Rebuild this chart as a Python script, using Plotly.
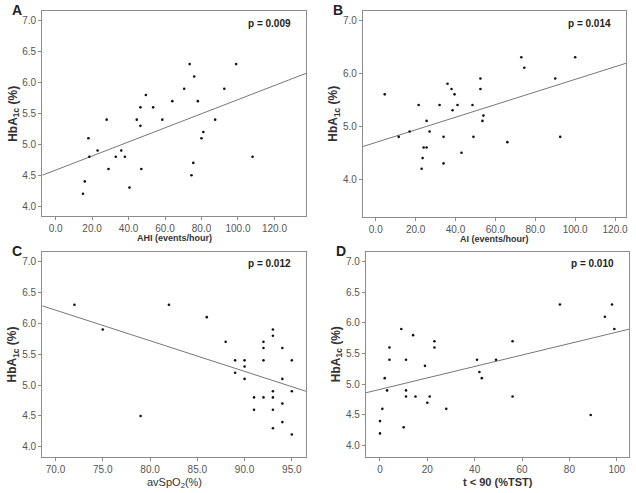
import numpy as np
import plotly.graph_objects as go

# ---------------- data ----------------
ahi = [15, 16, 18, 18.5, 23, 28, 29, 33, 36, 38, 40.5, 44.5, 46.5, 46.5, 47, 49.5, 53.5, 58.5,
       64, 70.5, 73.5, 76, 78, 75.5, 74.5, 80, 81, 87.5, 92.5, 99, 108]
hba_a = [4.2, 4.4, 5.1, 4.8, 4.9, 5.4, 4.6, 4.8, 4.9, 4.8, 4.3, 5.4, 5.6, 5.3, 4.6, 5.8, 5.6, 5.4,
         5.7, 5.9, 6.3, 6.1, 5.7, 4.7, 4.5, 5.1, 5.2, 5.4, 5.9, 6.3, 4.8]

ai = [4.5, 11.5, 17, 21.5, 25.5, 27, 24, 25.5, 23.5, 23, 32, 34, 34, 36, 38, 39.5, 38.5, 41, 43,
      48.5, 49, 52.5, 52.5, 54, 53.5, 66, 73, 74.5, 90, 92.5, 100]
hba_b = [5.6, 4.8, 4.9, 5.4, 5.1, 4.9, 4.6, 4.6, 4.4, 4.2, 5.4, 4.8, 4.3, 5.8, 5.7, 5.6, 5.3, 5.4, 4.5,
         5.4, 4.8, 5.9, 5.7, 5.2, 5.1, 4.7, 6.3, 6.1, 5.9, 4.8, 6.3]

avspo2 = [72, 75, 79, 82, 86, 88, 89, 89, 90, 90, 90, 91, 91, 92, 92, 92, 92, 93, 93, 93, 93, 93, 93,
          94, 94, 94, 94, 95, 95, 95]
hba_c = [6.3, 5.9, 4.5, 6.3, 6.1, 5.7, 5.4, 5.2, 5.4, 5.3, 5.1, 4.8, 4.6, 5.7, 5.6, 5.4, 4.8, 5.9, 5.8,
         4.9, 4.8, 4.6, 4.3, 5.6, 5.1, 4.7, 4.4, 5.4, 4.9, 4.2]

t90 = [0, 0, 1, 2, 3, 4, 4, 9, 10, 11, 11, 11, 14, 15, 19, 20, 21, 23, 23, 28, 41, 42, 43, 49, 56, 56,
       76, 89, 95, 98, 99]
hba_d = [4.2, 4.4, 4.6, 5.1, 4.9, 5.4, 5.6, 5.9, 4.3, 5.4, 4.9, 4.8, 5.8, 4.8, 5.3, 4.7, 4.8, 5.7, 5.6,
         4.6, 5.4, 5.2, 5.1, 5.4, 5.7, 4.8, 6.3, 4.5, 6.1, 6.3, 5.9]

panel_letters = ["A", "B", "C", "D"]
p_values = ["p = 0.009", "p = 0.014", "p = 0.012", "p = 0.010"]
x_titles = ["<b>AHI (events/hour)</b>", "<b>AI (events/hour)</b>", "avSpO<sub>2</sub>(%)",
            "<b>t &lt; 90 (%TST)</b>"]
y_title = "<b>HbA<sub>1c</sub> (%)</b>"

x_ticks_a = [0, 20, 40, 60, 80, 100, 120]
x_ticks_b = [0, 20, 40, 60, 80, 100, 120]
x_ticks_c = [70, 75, 80, 85, 90, 95]
x_ticks_d = [0, 20, 40, 60, 80, 100]
y_ticks_half = [4.0, 4.5, 5.0, 5.5, 6.0, 6.5, 7.0]
y_ticks_one = [4.0, 5.0, 6.0, 7.0]

# ---------------- layout geometry ----------------
W, H = 636, 493
FONT = "Arial, Liberation Sans, sans-serif"

panels = [
    dict(x=ahi, y=hba_a, dom_x=(42.3, 306), dom_y=(11, 216), xr=(-7.3, 137.3), yr=(3.84, 7.16),
         xt=x_ticks_a, xfmt=".1f", yt=y_ticks_half),
    dict(x=ai, y=hba_b, dom_x=(363, 626), dom_y=(11, 216.5), xr=(-6.4, 125.5), yr=(3.30, 7.17),
         xt=x_ticks_b, xfmt=".1f", yt=y_ticks_one),
    dict(x=avspo2, y=hba_c, dom_x=(42.3, 306), dom_y=(251.7, 456.7), xr=(68.6, 96.5), yr=(3.84, 7.16),
         xt=x_ticks_c, xfmt=".1f", yt=y_ticks_half),
    dict(x=t90, y=hba_d, dom_x=(366, 629.3), dom_y=(251.7, 456.7), xr=(-5.9, 105.3), yr=(3.82, 7.16),
         xt=x_ticks_d, xfmt="d", yt=y_ticks_half),
]

fig = go.Figure()
layout = dict(width=W, height=H, margin=dict(l=0, r=0, t=0, b=0, autoexpand=False),
              paper_bgcolor="white", plot_bgcolor="white", showlegend=False,
              font=dict(family=FONT, color="#444"))
annotations = []

BOX = "#8c8c8c"
for i, p in enumerate(panels):
    k = "" if i == 0 else str(i + 1)
    xa, ya = "x" + k, "y" + k
    x = np.array(p["x"], dtype=float)
    y = np.array(p["y"], dtype=float)
    slope, intercept = np.polyfit(x, y, 1)
    lx = np.array(p["xr"])
    fig.add_trace(go.Scatter(x=lx, y=intercept + slope * lx, mode="lines",
                             line=dict(color="#777", width=1), xaxis=xa, yaxis=ya,
                             hoverinfo="skip"))
    fig.add_trace(go.Scatter(x=x, y=y, mode="markers",
                             marker=dict(color="#111", size=2.6), xaxis=xa, yaxis=ya))
    dx = [p["dom_x"][0] / W, p["dom_x"][1] / W]
    dy = [(H - p["dom_y"][1]) / H, (H - p["dom_y"][0]) / H]
    axcommon = dict(showline=True, mirror=True, linecolor=BOX, linewidth=1.3, showgrid=False,
                    zeroline=False, ticks="outside", ticklen=3, tickcolor=BOX,
                    tickfont=dict(size=10, color="#555", family=FONT))
    layout["xaxis" + k] = dict(axcommon, domain=dx, range=list(p["xr"]), tickvals=p["xt"],
                               tickformat=p["xfmt"], anchor=ya)
    layout["yaxis" + k] = dict(axcommon, domain=dy, range=list(p["yr"]), tickvals=p["yt"],
                               tickformat=".1f", anchor=xa)
    cx = (p["dom_x"][0] + p["dom_x"][1]) / 2
    cy = (p["dom_y"][0] + p["dom_y"][1]) / 2
    # panel letter
    annotations.append(dict(text="<b>%s</b>" % panel_letters[i], x=(p["dom_x"][0] - 25) / W,
                            y=(H - p["dom_y"][0] + 11) / H, xref="paper", yref="paper",
                            xanchor="center", yanchor="top", showarrow=False,
                            font=dict(size=14, color="#222", family=FONT)))
    # p value
    annotations.append(dict(text="<b>%s</b>" % p_values[i], x=(p["dom_x"][1] - 13) / W,
                            y=(H - p["dom_y"][0] - 12) / H, xref="paper", yref="paper",
                            xanchor="right", yanchor="middle", showarrow=False,
                            font=dict(size=10, color="#222", family=FONT)))
    # y title
    annotations.append(dict(text=y_title, x=(p["dom_x"][0] - 29) / W, y=(H - cy) / H,
                            xref="paper", yref="paper", xanchor="center", yanchor="middle",
                            textangle=-90, showarrow=False,
                            font=dict(size=12, color="#333", family=FONT)))
    # x title
    xt_size = [9, 9, 11, 11][i]
    xt_off = [22, 22, 26, 25][i]
    annotations.append(dict(text=x_titles[i], x=cx / W, y=(H - p["dom_y"][1] - xt_off) / H,
                            xref="paper", yref="paper", xanchor="center", yanchor="middle",
                            showarrow=False, font=dict(size=xt_size, color="#333", family=FONT)))

layout["annotations"] = annotations
fig.update_layout(**layout)
fig.write_html("out.html", post_script="document.body.style.margin='0px';",
               config={"displayModeBar": False})
